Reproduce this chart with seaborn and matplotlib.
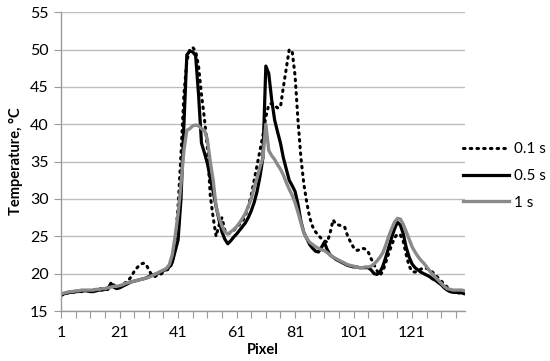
import numpy as np
import pandas as pd
import matplotlib
matplotlib.use("Agg")
import matplotlib.pyplot as plt
import seaborn as sns

# Pixel index along the profile
pixel = list(range(1, 140))

temp_01s = [
    17.1, 17.2, 17.4, 17.5, 17.5, 17.6, 17.6, 17.6, 17.7, 17.7,
    17.7, 17.8, 17.9, 18.0, 18.0, 18.0, 18.1, 18.3, 18.5, 18.2,
    18.2, 18.5, 18.8, 19.1, 19.6, 20.3, 20.8, 21.2, 21.4, 21.3,
    20.5, 19.8, 19.6, 19.8, 19.9, 20.2, 20.5, 20.6, 21.5, 24.0,
    29.0, 36.0, 44.0, 48.5, 50.0, 50.3, 49.8, 47.8, 44.0, 40.8,
    37.0, 30.5, 27.5, 25.0, 26.5, 27.5, 25.8, 25.3, 25.5, 25.8,
    26.2, 26.6, 27.0, 27.8, 29.0, 30.5, 32.5, 34.5, 36.5, 38.5,
    41.0, 42.6, 42.8, 42.5, 42.2, 42.3, 45.0, 47.5, 50.0, 49.8,
    46.5, 40.5, 35.5, 32.0, 29.5, 27.5, 26.3, 25.6, 25.1, 24.7,
    24.4, 24.2, 25.5, 27.2, 26.6, 26.5, 26.4, 26.2, 25.0, 24.2,
    23.5, 23.1, 23.2, 23.4, 23.3, 22.9, 22.0, 21.2, 20.4, 19.8,
    20.3, 21.5, 22.7, 23.8, 24.8, 25.3, 25.2, 24.3, 22.5, 21.0,
    20.3, 20.2, 20.4, 20.6, 20.8, 20.7, 20.5, 20.2, 19.8, 19.4,
    19.0, 18.6, 18.2, 17.8, 17.6, 17.5, 17.4, 17.3, 17.3,
]

temp_05s = [
    17.2, 17.3, 17.4, 17.5, 17.5, 17.6, 17.6, 17.7, 17.7, 17.7,
    17.6, 17.6, 17.7, 17.8, 17.8, 17.9, 17.9, 18.7, 18.2, 18.0,
    18.1, 18.3, 18.5, 18.7, 18.9, 19.0, 19.1, 19.2, 19.3, 19.4,
    19.6, 19.8, 19.9, 20.0, 20.2, 20.4, 20.6, 20.9, 21.5, 23.0,
    24.5, 30.0, 40.0, 49.3, 49.8, 49.7, 49.2, 44.0, 37.5, 36.2,
    34.8, 32.8, 31.0, 29.0, 27.2, 25.6, 24.6, 24.0, 24.4, 24.9,
    25.3, 25.8, 26.3, 26.8, 27.5, 28.4, 29.5, 31.0, 33.0, 35.5,
    47.8, 46.8, 43.3, 40.6, 39.0, 37.5, 35.5, 34.0, 32.5, 31.8,
    31.0, 29.3, 27.0, 25.5, 24.7, 23.9, 23.4, 23.0, 22.9, 23.5,
    24.2, 23.2, 22.5, 22.2, 21.9, 21.7, 21.5, 21.3, 21.1, 21.0,
    20.9, 20.9, 20.8, 20.8, 20.8, 20.8, 20.5, 20.0, 19.9, 20.2,
    21.0, 22.2, 23.5, 24.8, 26.0, 26.9, 26.5, 25.3, 23.5, 22.2,
    21.3, 20.8, 20.5, 20.2, 20.0, 19.8, 19.6, 19.3, 19.1, 18.8,
    18.5, 18.1, 17.8, 17.6, 17.5, 17.5, 17.5, 17.4, 17.5,
]

temp_1s = [
    17.3, 17.4, 17.5, 17.6, 17.6, 17.7, 17.7, 17.8, 17.8, 17.8,
    17.8, 17.8, 17.9, 17.9, 18.0, 18.0, 18.1, 18.2, 18.3, 18.3,
    18.4, 18.5, 18.7, 18.8, 18.9, 19.0, 19.1, 19.2, 19.3, 19.4,
    19.5, 19.7, 19.9, 20.1, 20.3, 20.5, 20.7, 21.2, 22.5, 25.0,
    28.0, 32.0, 36.5, 39.2, 39.4, 39.8, 39.9, 39.8, 39.4, 39.2,
    38.0, 35.0, 32.5, 29.0, 27.5, 26.4, 25.6, 25.3, 25.6, 25.9,
    26.3, 26.8, 27.4, 28.1, 29.0, 30.0, 31.5, 32.8, 34.3, 35.5,
    40.0, 36.5, 35.8, 35.3, 34.6, 34.0, 33.2, 32.2, 31.3, 30.5,
    29.5, 28.2, 26.8, 25.5, 24.7, 24.2, 23.9, 23.6, 23.4, 23.2,
    23.1, 22.8, 22.5, 22.2, 22.0, 21.8, 21.6, 21.4, 21.2, 21.1,
    21.0, 20.9, 20.8, 20.8, 20.9, 20.9, 21.0, 21.3, 21.7, 22.2,
    22.8, 23.8, 25.0, 26.0, 26.9, 27.4, 27.3, 26.6, 25.6, 24.6,
    23.6, 22.9, 22.3, 21.8, 21.4, 20.9, 20.4, 19.9, 19.5, 19.1,
    18.7, 18.3, 18.0, 17.9, 17.8, 17.8, 17.8, 17.8, 17.7,
]

series_labels = ["0.1 s", "0.5 s", "1 s"]

plt.rcParams["font.family"] = ["Lato", "DejaVu Sans"]

fig = plt.figure(figsize=(5.5, 3.61), dpi=100)
ax = fig.add_axes([0.111, 0.1385, 0.734, 0.8275])

grid_col = "#bdbdbd"
axis_col = "#9a9a9a"

sns.lineplot(x=pixel, y=temp_01s, ax=ax, color="black", linewidth=2.2,
             linestyle=(0, (0.5, 1.7)), dash_capstyle="round", label=series_labels[0])
sns.lineplot(x=pixel, y=temp_05s, ax=ax, color="black", linewidth=2.3, label=series_labels[1])
sns.lineplot(x=pixel, y=temp_1s, ax=ax, color="#8a8a8a", linewidth=2.4, label=series_labels[2])

ax.set_xlim(1, 139)
ax.set_ylim(15, 55)
ax.set_yticks(range(15, 56, 5))
ax.set_xticks(range(1, 139, 5))
ax.set_xticklabels([str(v) if (v - 1) % 20 == 0 else "" for v in range(1, 139, 5)])

ax.grid(axis="y", color=grid_col, linewidth=1.0)
ax.set_axisbelow(True)
for s in ["top", "right"]:
    ax.spines[s].set_visible(False)
for s in ["left", "bottom"]:
    ax.spines[s].set_color(axis_col)
    ax.spines[s].set_linewidth(1.0)
ax.tick_params(axis="x", direction="out", length=5, color=axis_col, labelsize=11.5, pad=6)
ax.tick_params(axis="y", direction="out", length=5, color=axis_col, labelsize=11.5, pad=4)

ax.set_xlabel("Pixel", fontsize=10.5, fontweight="bold", labelpad=2)
ax.set_ylabel("Temperature, °C", fontsize=10.5, fontweight="bold", labelpad=5)

ax.get_legend().remove()
handles, labels = ax.get_legend_handles_labels()
fig.legend(handles, labels, loc="upper left", bbox_to_anchor=(0.842, 0.607),
           frameon=False, fontsize=11, handlelength=3.0, handletextpad=0.3,
           labelspacing=0.85, borderpad=0, borderaxespad=0)

fig.savefig("out.png", dpi=100)
